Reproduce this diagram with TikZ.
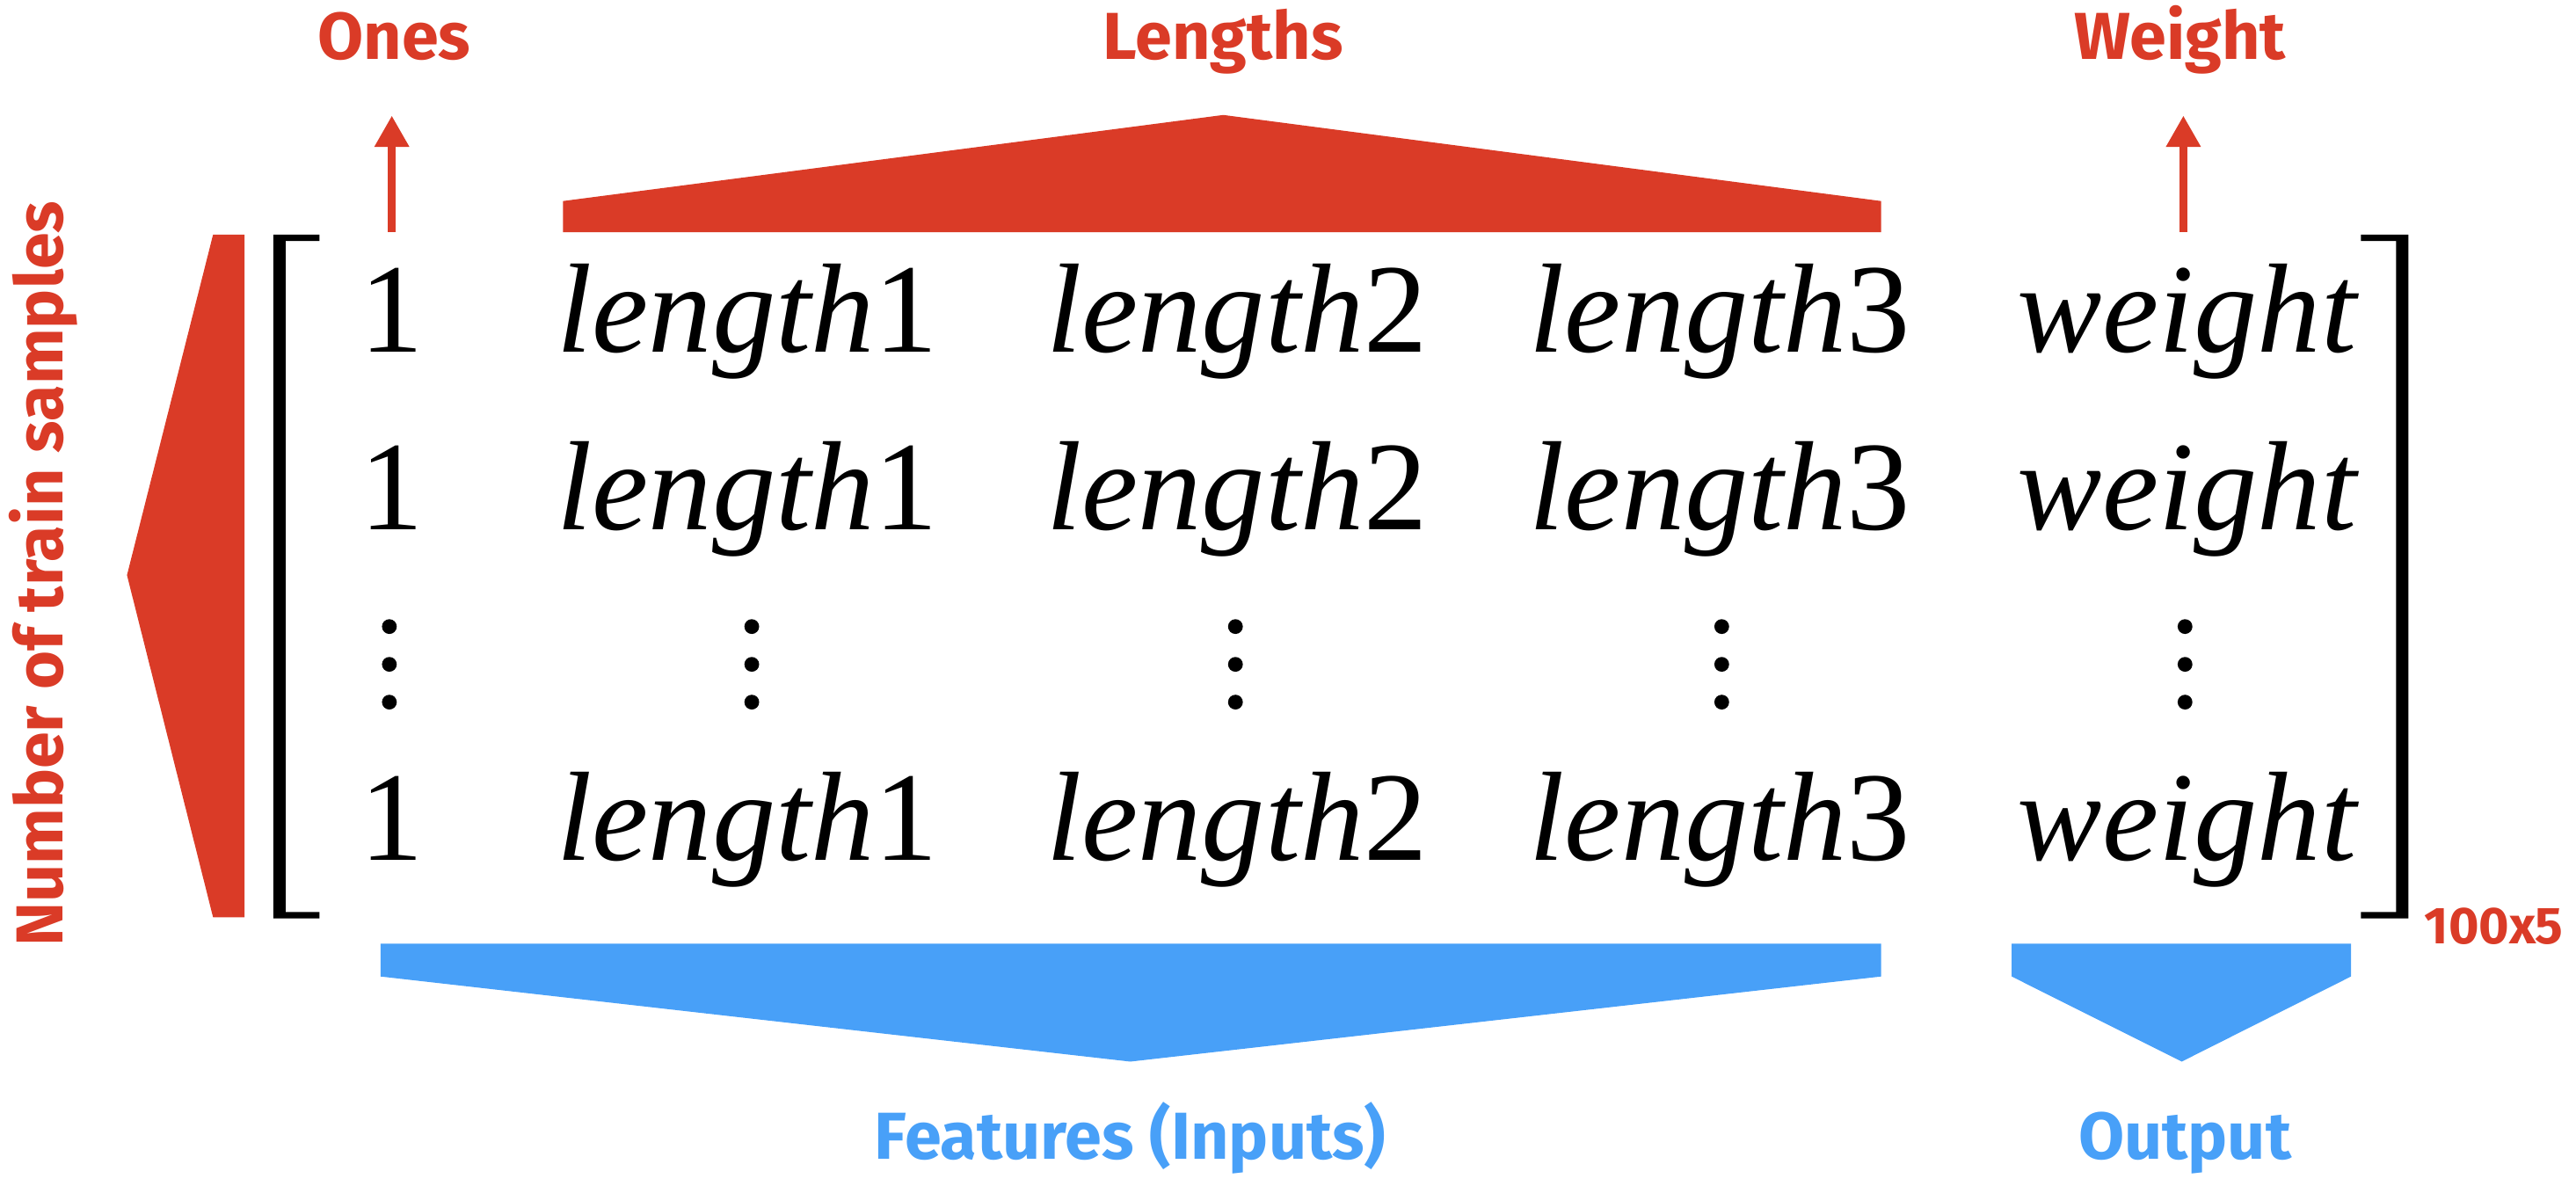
\documentclass[tikz,border=0pt]{standalone}
\usepackage{fontspec}
\setmainfont{Liberation Serif}
\newfontfamily\lblfont{Fira Sans}
\definecolor{lb_red}{HTML}{DA3B27}
\definecolor{lb_blue}{HTML}{48A0F8}
\usetikzlibrary{arrows.meta}
\tikzset{
  entry/.style={anchor=base, inner sep=0pt, font=\fontsize{22}{26}\selectfont},
  redlbl/.style={anchor=base, inner sep=0pt, text=lb_red, font=\lblfont\bfseries\fontsize{11.5}{14}\selectfont},
  bluelbl/.style={redlbl, text=lb_blue},
  sizelbl/.style={redlbl, font=\lblfont\bfseries\fontsize{9}{11}\selectfont},
  uparrow/.style={lb_red, line width=1.3pt, -{Triangle[width=2mm,length=1.9mm]}}
}
\newcommand{\lenvar}[1]{\textit{length}#1}

\begin{document}
\begin{tikzpicture}
  \useasboundingbox (0,0) rectangle (15.68,7.214);
  % brackets
  \fill (1.944,5.786) -- (1.664,5.786) -- (1.664,1.623) -- (1.944,1.623) -- (1.944,1.662) -- (1.739,1.662) -- (1.739,5.747) -- (1.944,5.747) -- cycle;
  \fill (14.37,5.786) -- (14.66,5.786) -- (14.66,1.623) -- (14.37,1.623) -- (14.37,1.662) -- (14.585,1.662) -- (14.585,5.747) -- (14.37,5.747) -- cycle;
  % rows
  \foreach \y/\r in {5.07/a, 3.99/b, 1.98/c} {
    \node[entry] (one\r) at (2.386,\y) {1};
    \node[entry] (lena\r) at (4.55,\y) {\lenvar1};
    \node[entry] (lenb\r) at (7.53,\y) {\lenvar2};
    \node[entry] (lenc\r) at (10.47,\y) {\lenvar3};
    \node[entry] (wgt\r) at (13.32,\y) {\textit{weight}};
  }
  \foreach \x in {2.37,4.576,7.52,10.48,13.30}
    \foreach \y in {3.40,3.17,2.94}
      \fill (\x,\y) circle (0.045);
  % red markers
  \fill[lb_red] (1.297,5.786) -- (1.488,5.786) -- (1.488,1.63) -- (1.297,1.63) -- (0.773,3.713) -- cycle;
  \fill[lb_red] (3.427,5.80) -- (11.45,5.80) -- (11.45,5.99) -- (7.446,6.514) -- (3.427,5.99) -- cycle;
  % blue markers
  \fill[lb_blue] (2.316,1.47) -- (11.45,1.47) -- (11.45,1.27) -- (6.88,0.752) -- (2.316,1.27) -- cycle;
  \fill[lb_blue] (12.245,1.47) -- (14.31,1.47) -- (14.31,1.27) -- (13.28,0.752) -- (12.245,1.27) -- cycle;
  % labels
  \node[redlbl] (ones) at (2.40,6.853) {Ones};
  \node[redlbl] (lengths) at (7.445,6.853) {Lengths};
  \node[redlbl] (weight) at (13.27,6.853) {Weight};
  \node[redlbl, rotate=90] (samples) at (0.384,3.72) {Number of train samples};
  \node[sizelbl] (size) at (15.18,1.47) {100x5};
  \node[bluelbl] (features) at (6.88,0.16) {Features (Inputs)};
  \node[bluelbl] (output) at (13.30,0.16) {Output};
  % arrows
  \coordinate (onesfoot) at (2.385,5.80);
  \coordinate (onestip) at (2.385,6.51);
  \coordinate (wgtfoot) at (13.29,5.80);
  \coordinate (wgttip) at (13.29,6.51);
  \draw[uparrow] (onesfoot) -- (onestip);
  \draw[uparrow] (wgtfoot) -- (wgttip);
\end{tikzpicture}
\end{document}
